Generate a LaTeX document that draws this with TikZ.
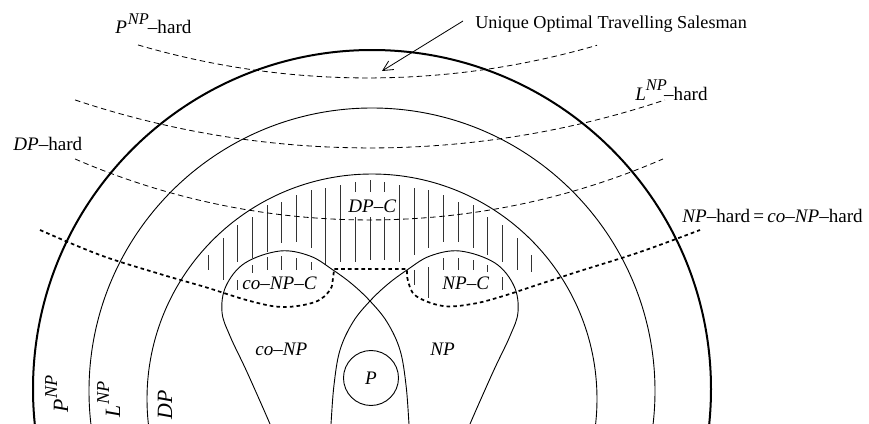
\documentclass[tikz,border=0pt]{standalone}
\usepackage{fontspec}
\setmainfont{Liberation Serif}
\usetikzlibrary{arrows.meta}
\newcommand{\itx}[1]{\textit{#1}}
\newcommand{\supx}[1]{\raisebox{0.52em}{\fontsize{9}{10}\selectfont\itx{#1}}}
\newcommand{\supr}[1]{\raisebox{0.5em}{\fontsize{10}{11}\selectfont\itx{#1}}}
\begin{document}
\begin{tikzpicture}[x=0.55pt,y=-0.55pt,
  thincirc/.style={line width=0.5pt},
  thickcirc/.style={line width=1.1pt},
  thindash/.style={line width=0.45pt, dash pattern=on 3pt off 2pt},
  bigdash/.style={line width=0.95pt, dash pattern=on 2pt off 1.7pt},
  hatchline/.style={line width=0.4pt, black!80},
  lbl/.style={inner sep=0pt, font=\fontsize{10.5}{12}\selectfont},
  rlbl/.style={inner sep=0pt, font=\fontsize{12}{14}\selectfont, rotate=90, anchor=base west}]
\useasboundingbox (0,0) rectangle (869,424);
\begin{scope}
\clip (0,0) rectangle (869,424);
% class circles
\draw[thickcirc] (372,389) circle[radius=339];
\draw[thincirc] (372,391) circle[radius=283];
\draw[thincirc] (372,399) circle[radius=225];
% hatching of DP-C
\foreach \x/\a/\b in {208.3/255/270, 223/238/280, 237.7/225/262, 252.3/217/258,
  267/205/252, 281.7/202/243, 296.3/195/242, 311/190/248, 325.7/188/265,
  340.6/185/262, 355.3/182/192, 355.3/217/262, 370/180/192, 370/217/260,
  384.7/182/192, 384.7/217/260, 399.4/185/262, 414/188/255, 428.8/190/248,
  443.5/195/242, 458.2/202/242, 472.9/205/248, 487.6/217/255, 502.3/225/262,
  517/238/270, 531.7/255/272,
  237.7/280/290, 252.3/265/273, 267/257/270, 281.7/256/270, 296.3/258/270, 311/262/270,
  414/270/285, 428.8/267/298, 443.5/258/270, 458.2/258/270, 472.9/260/270,
  487.6/265/272, 502.3/277/290}
  \draw[hatchline] (\x,\a) -- (\x,\b);
% co-NP and NP loops
\draw[thincirc] plot[smooth, tension=0.6] coordinates {(276,440) (270,424) (247,372) (230,336) (222,312)
  (226,286) (245,263) (280,251) (310,256) (333,270) (352,284) (370,301) (387,322) (400,350)
  (406,385) (409,424) (410,440)};
\draw[thincirc] plot[smooth, tension=0.6] coordinates {(464,440) (470,424) (493,372) (510,336) (518,312)
  (514,286) (495,263) (460,251) (430,256) (407,270) (388,284) (370,301) (353,322) (340,350)
  (334,385) (331,424) (330,440)};
% P
\draw[thincirc] (371,378) circle[radius=27.5];
\end{scope}
% hardness dashed arcs
\draw[thindash] (368,-740) ++(106.33:818) arc[start angle=106.33, end angle=73.74, radius=818];
\draw[thindash] (370,-782) ++(108.49:930) arc[start angle=108.49, end angle=71.51, radius=930];
\draw[thindash] (369,-519) ++(113.44:739) arc[start angle=113.44, end angle=66.56, radius=739];
% NP-hard boundary
\draw[bigdash] plot[smooth, tension=0.6] coordinates {(40,230) (100,255) (160,274) (205,287) (250,301)
  (283,307) (315,302) (330,290) (333,278) (334,269)} -- (407,269)
  -- plot[smooth, tension=0.6] coordinates {(407,269) (408,281) (416,296) (443,306) (472,304)
  (500,297) (540,284) (580,271) (640,252) (700,230)};
% labels
\node[lbl, anchor=base west] (lPNPh) at (115,34) {\itx{P}\kern0.5pt\supx{NP}\kern-0.5pt–hard};
\node[lbl, anchor=base west, font=\fontsize{10}{12}\selectfont] (luots) at (475,28) {Unique Optimal Travelling Salesman};
\node[lbl, anchor=base west] (lLNPh) at (635,100) {\itx{L}\supx{NP}\kern-1.5pt–hard};
\node[lbl, anchor=base west] (lDPh) at (13,150) {\itx{DP}–hard};
\node[lbl, anchor=base west] (lDPC) at (348,212) {\itx{DP}–\itx{C}};
\node[lbl, anchor=base west] (lcoNPC) at (242,289) {\itx{co}–\itx{NP}–\itx{C}};
\node[lbl, anchor=base west] (lNPC) at (442,289) {\itx{NP}–\itx{C}};
\node[lbl, anchor=base west] (lcoNP) at (255,355) {\itx{co}–\itx{NP}};
\node[lbl, anchor=base west] (lNP) at (430,355) {\itx{NP}};
\node[lbl] (lP) at (371,378) {\itx{P}};
\node[lbl, anchor=base west] (lNPh) at (682,222) {\itx{NP}–hard\,=\,\itx{co}–\itx{NP}–hard};
\node[rlbl] (rPNP) at (68,413) {\itx{P}\kern0.5pt\supr{NP}};
\node[rlbl] (rLNP) at (120,418) {\itx{L}\kern0.5pt\supr{NP}};
\node[rlbl] (rDP) at (172,420) {\itx{DP}};
% arrow
\coordinate (arrS) at (463,21);
\coordinate (arrE) at (382,71);
\draw[line width=0.45pt, -{Straight Barb[length=5.5pt,width=5.5pt]}] (arrS) -- (arrE);
\end{tikzpicture}
\end{document}
